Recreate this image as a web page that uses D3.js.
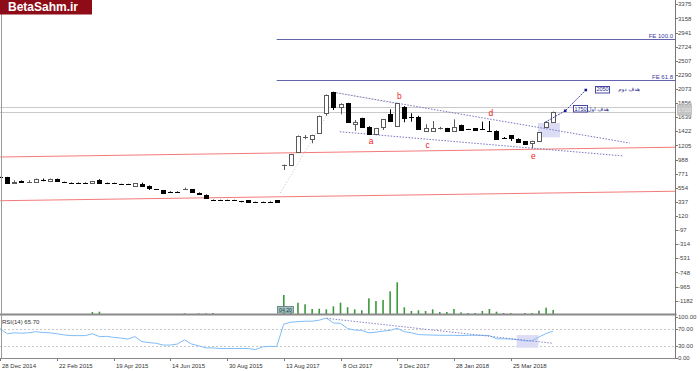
<!DOCTYPE html>
<html><head><meta charset="utf-8">
<script src="https://cdn.jsdelivr.net/npm/d3@7"></script>
<style>
html,body{margin:0;padding:0;background:#fff;overflow:hidden}
svg{display:block;font-family:"Liberation Sans",Arial,sans-serif}
</style></head><body>
<svg id="c" width="700" height="371"></svg>
<script>
// ---------------- DATA ----------------
const tickLabels = ["28 Dec 2014","22 Feb 2015","19 Apr 2015","14 Jun 2015","30 Aug 2015","13 Aug 2017","8 Oct 2017","3 Dec 2017","28 Jan 2018","25 Mar 2018"];
const priceTicks = [3375,3158,2941,2724,2507,2290,2073,1856,1639,1422,1205,988,771,554,337,120,-97,-314,-531,-748,-965,-1182];
const rsiTicks = [100,70,30,0];
const rsiTickText = ["100.00","70.00","30.00","0.00"];

const open  = [715,715,627,663,642,642,685,662,690,645,635,635,634,625,680,624,623,609,608,582,607,586,532,515,496,496,532,530,478,448,368,363,363,363,352,362,337,337,342,362,
               900,904,1109,1325,1304,1401,1699,2022,1796,1853,1530,1622,1493,1376,1484,1684,1504,1801,1650,1647,1427,1430,1465,1468,1427,1519,1455,1468,1455,1433,1432,1326,1361,1309,1269,1247,1273,1488,1561];
const high  = [722,722,668,668,670,696,696,696,696,648,638,638,637,660,686,634,632,616,615,628,632,590,536,520,500,500,556,535,482,452,372,370,370,370,353,366,340,340,345,365,
               910,1075,1358,1365,1370,1665,1990,2030,1853,1860,1596,1630,1500,1475,1612,1760,1860,1810,1699,1660,1530,1581,1490,1475,1607,1525,1460,1470,1570,1581,1437,1335,1365,1315,1273,1278,1412,1570,1725];
const low   = [708,615,622,636,630,636,655,650,655,637,630,630,629,620,628,610,612,598,598,578,572,520,524,474,490,490,525,485,450,392,358,355,355,355,330,336,332,332,337,332,
               827,898,1100,1300,1238,1395,1662,1750,1684,1555,1432,1475,1376,1370,1442,1575,1495,1561,1570,1445,1415,1425,1450,1425,1420,1437,1445,1432,1445,1428,1299,1315,1273,1258,1222,1161,1268,1480,1555];
const close = [712,623,650,640,652,690,667,684,660,641,632,632,631,655,632,621,620,606,605,623,576,551,529,478,493,493,540,489,454,397,364,360,360,360,350,340,335,335,340,336,
               905,1069,1350,1335,1365,1658,1980,1801,1837,1561,1561,1484,1381,1468,1607,1581,1853,1632,1647,1453,1478,1470,1470,1432,1484,1442,1451,1438,1451,1430,1304,1322,1315,1262,1227,1273,1407,1561,1720];
const volume = [0,0,0,0,0,0,0,0,0,0,0,0,0,20,23,0,0,0,0,0,0,0,0,0,0,0,7,0,7,7,10,0,0,0,0,0,0,0,0,0,
               190,30,113,97,50,53,47,77,113,68,47,37,157,130,140,227,317,67,30,37,30,47,20,20,50,17,10,10,30,50,23,10,10,0,10,10,33,63,40];
const rsi = [71.8,59.0,61.5,60.5,61.5,64.1,62.3,61.5,59.0,56.4,54.6,54.6,54.6,59.0,52.1,52.8,50.3,48.7,46.2,52.1,40.0,37.4,35.9,31.5,31.5,34.1,44.4,34.1,29.7,24.6,24.6,23.1,23.1,23.1,23.1,23.1,20.5,27.2,28.2,28.2,
             82.8,87.2,88.7,89.7,89.7,92.3,97.4,85.4,84.6,71.8,68.2,67.4,61.5,63.1,65.6,67.4,72.6,64.1,61.5,57.2,56.4,55.9,55.4,55.4,55.4,54.6,55.4,55.4,55.4,54.6,46.9,46.9,46.2,44.4,41.8,41.8,51.3,59.7,65.7];
const rsiLabel = "RSI(14) 65.70";
const fibLevels = [{label:"FE 100.0", value:2837, from:39}, {label:"FE 61.8", value:2207, from:39}];
const priceLines = [1791, 1714];
const redLines = [{k0:0,p0:1027,k1:95.3,p1:1178},{k0:0,p0:355,k1:95.3,p1:501}];
const channelLines = [{k0:47,p0:2022,k1:88.8,p1:1242},{k0:47.9,p0:1416,k1:87.9,p1:1043}];
const faintLines = [[[39.5,474],[46.1,1673]],[[46.9,2027],[56.0,1842]]];
const waveLabels = [{t:"a",k:52.3,p:1272},{t:"b",k:56.3,p:1970},{t:"c",k:60.3,p:1207},{t:"d",k:69.2,p:1699},{t:"e",k:75.2,p:1047}];
const targetPath = [[76.85,1560],[79.7,1738],[82.6,2057]];
const targets = [{value:1750, text:"هدف اول", k:80.8, textEnd:609},{value:2050, text:"هدف دوم", k:83.9, textEnd:640}];
const zoneMain = {k0:75.85,k1:78.95,p0:1550,p1:1330};
const zoneRsi = {k0:72.85,k1:75.9,v0:56,v1:25};
const rsiTrend = {k0:46.05,v0:96.8,k1:78,v1:35.8};
const lastPrice = 1720;
const gapLabel = "04.20";

// ---------------- SCALES ----------------
const svg = d3.select("#c");
const x  = d3.scaleLinear().domain([0,78]).range([0.2,553.2]);
const yP = d3.scaleLinear().domain([-1182,3375]).range([300.7,4.3]);
const yV = d3.scaleLinear().domain([0,320]).range([314,282]);
const yR = d3.scaleLinear().domain([0,100]).range([358,317]);
const AX = 675.5, MAIN_B = 314, RSI_B = 358.5;
const px = i => Math.round(x(i)) + 0.5;

const defs = svg.append("defs");
defs.append("clipPath").attr("id","cm").append("rect").attr("x",0).attr("y",0).attr("width",AX).attr("height",MAIN_B);
defs.append("clipPath").attr("id","cr").append("rect").attr("x",0).attr("y",315.5).attr("width",AX).attr("height",RSI_B-315.5);

const main = svg.append("g").attr("clip-path","url(#cm)");

main.selectAll("line.pl").data(priceLines).join("line")
  .attr("x1",0).attr("x2",AX).attr("y1",d=>Math.round(yP(d))+0.5).attr("y2",d=>Math.round(yP(d))+0.5)
  .attr("stroke","#cacaca").attr("stroke-width",1);

main.selectAll("line.red").data(redLines).join("line")
  .attr("x1",d=>x(d.k0)).attr("y1",d=>yP(d.p0)).attr("x2",d=>x(d.k1)).attr("y2",d=>yP(d.p1))
  .attr("stroke","#f47a7a").attr("stroke-width",1);

fibLevels.forEach(f=>{
  const yy = Math.round(yP(f.value))+0.5;
  main.append("line").attr("x1",x(f.from)).attr("x2",AX).attr("y1",yy).attr("y2",yy).attr("stroke","#6464ac").attr("stroke-width",1);
  main.append("text").attr("x",673).attr("y",yy-1.5).attr("text-anchor","end").attr("font-size",6).attr("fill","#3c3ca0").text(f.label);
});

main.selectAll("rect.v").data(volume.map((v,i)=>({v,i})).filter(d=>d.v>0)).join("rect")
  .attr("x",d=>x(d.i)-0.8).attr("width",1.6).attr("y",d=>yV(d.v)).attr("height",d=>yV(0)-yV(d.v))
  .attr("fill","#3a9a3a");

main.append("rect").attr("x",x(zoneMain.k0)).attr("width",x(zoneMain.k1)-x(zoneMain.k0))
  .attr("y",yP(zoneMain.p0)).attr("height",yP(zoneMain.p1)-yP(zoneMain.p0)).attr("fill","#dcdcf4");

const line = d3.line().x(d=>x(d[0])).y(d=>yP(d[1]));
main.selectAll("path.f").data(faintLines).join("path").attr("d",line).attr("fill","none")
  .attr("stroke","#c4c4c4").attr("stroke-dasharray","1,2").attr("stroke-width",1);

main.selectAll("line.ch").data(channelLines).join("line")
  .attr("x1",d=>x(d.k0)).attr("y1",d=>yP(d.p0)).attr("x2",d=>x(d.k1)).attr("y2",d=>yP(d.p1))
  .attr("stroke","#7676c0").attr("stroke-dasharray","1.5,1.5").attr("stroke-width",1);

const candles = open.map((o,i)=>({i,o,h:high[i],l:low[i],c:close[i]}));
const cg = main.append("g");
candles.forEach(d=>{
  const cx = px(d.i), up = d.c >= d.o;
  const col = up ? "#5a5a5a" : "#000";
  cg.append("line").attr("x1",cx).attr("x2",cx).attr("y1",yP(d.h)).attr("y2",yP(d.l)).attr("stroke",col).attr("stroke-width",1);
  const t = yP(Math.max(d.o,d.c)), b = yP(Math.min(d.o,d.c));
  if (b - t < 1.3) {
    const yy = Math.round((t+b)/2)+0.5;
    cg.append("line").attr("x1",cx-2.5).attr("x2",cx+2.5).attr("y1",yy).attr("y2",yy).attr("stroke",col);
  } else {
    const tt = Math.round(t)+0.5, bb = Math.round(b)+0.5;
    cg.append("rect").attr("x",cx-2).attr("width",4).attr("y",tt).attr("height",Math.max(1,bb-tt))
      .attr("fill",up?"#fff":"#000").attr("stroke",col).attr("stroke-width",1);
  }
});

main.selectAll("text.w").data(waveLabels).join("text")
  .attr("x",d=>x(d.k)).attr("y",d=>yP(d.p)).attr("dy","0.35em").attr("text-anchor","middle")
  .attr("font-size",8.5).attr("fill","#ee2222").text(d=>d.t);

main.append("path").attr("d",line(targetPath)).attr("fill","none").attr("stroke","#4040b0")
  .attr("stroke-dasharray","2,1").attr("stroke-width",1);
main.selectAll("rect.mk").data(targetPath.slice(1)).join("rect")
  .attr("x",d=>x(d[0])-1.3).attr("y",d=>yP(d[1])-1.3).attr("width",2.6).attr("height",2.6).attr("fill","#1c1c90");
targets.forEach(t=>{
  const cy = yP(t.value)-1;
  const bx = x(t.k);
  main.append("rect").attr("x",Math.round(bx)+0.5).attr("y",Math.round(cy-3.5)+0.5).attr("width",14).attr("height",6.5)
    .attr("fill","#fff").attr("stroke","#4646a6").attr("stroke-width",1);
  main.append("text").attr("x",Math.round(bx)+7.5).attr("y",cy).attr("dy","0.35em").attr("text-anchor","middle")
    .attr("font-size",5.5).attr("fill","#2a2a8a").text(t.value);
  main.append("text").attr("x",t.textEnd).attr("y",cy).attr("dy","0.35em").attr("text-anchor","end")
    .attr("font-family","DejaVu Sans").attr("font-size",5.5).attr("fill","#2a2a8a").text(t.text);
});

main.append("rect").attr("x",Math.round(x(40))-6.5).attr("y",306.5).attr("width",16).attr("height",6.5)
  .attr("fill","#a2c2c2").attr("stroke","#5a7a7a").attr("stroke-width",0.8);
main.append("text").attr("x",Math.round(x(40))+1.5).attr("y",310).attr("dy","0.35em").attr("text-anchor","middle")
  .attr("font-size",5.2).attr("fill","#1a3a3a").text(gapLabel);

// ---------------- RSI ----------------
const rg = svg.append("g").attr("clip-path","url(#cr)");
[70,30].forEach(v=>{
  rg.append("line").attr("x1",0).attr("x2",AX).attr("y1",Math.round(yR(v))+0.5).attr("y2",Math.round(yR(v))+0.5)
    .attr("stroke","#c8c8c8").attr("stroke-dasharray","2,2");
});
rg.append("rect").attr("x",x(zoneRsi.k0)).attr("width",x(zoneRsi.k1)-x(zoneRsi.k0))
  .attr("y",yR(zoneRsi.v0)).attr("height",yR(zoneRsi.v1)-yR(zoneRsi.v0)).attr("fill","#dcdcf4");
rg.append("path").attr("d",d3.line().x((d,i)=>x(i)).y(d=>yR(d))(rsi)).attr("fill","none")
  .attr("stroke","#7fbcf6").attr("stroke-width",1);
rg.append("line").attr("x1",x(rsiTrend.k0)).attr("y1",yR(rsiTrend.v0)).attr("x2",x(rsiTrend.k1)).attr("y2",yR(rsiTrend.v1))
  .attr("stroke","#8484c8").attr("stroke-dasharray","1.5,1.5");
svg.append("text").attr("x",2).attr("y",321.5).attr("dy","0.35em").attr("font-size",6).attr("fill","#333").text(rsiLabel);

// ---------------- FRAME / AXES ----------------
svg.append("line").attr("x1",0).attr("x2",AX+1).attr("y1",314.5).attr("y2",314.5).attr("stroke","#8a8a8a").attr("stroke-width",2);
svg.append("line").attr("x1",0).attr("x2",AX).attr("y1",RSI_B).attr("y2",RSI_B).attr("stroke","#8a8a8a").attr("stroke-width",1);
svg.append("line").attr("x1",1.5).attr("x2",1.5).attr("y1",14).attr("y2",RSI_B).attr("stroke","#9a9a9a");
svg.append("line").attr("x1",AX).attr("x2",AX).attr("y1",0).attr("y2",RSI_B).attr("stroke","#777");

const pa = svg.append("g");
priceTicks.forEach(v=>{
  const yy = Math.round(yP(v))+0.5;
  pa.append("line").attr("x1",AX).attr("x2",AX+2.5).attr("y1",yy).attr("y2",yy).attr("stroke","#777");
  pa.append("text").attr("x",678).attr("y",yP(v)).attr("dy","0.35em").attr("font-size",6).attr("fill","#444").text(v);
});
rsiTicks.forEach((v,i)=>{
  const yy = Math.round(yR(v))+0.5;
  pa.append("line").attr("x1",AX).attr("x2",AX+2.5).attr("y1",yy).attr("y2",yy).attr("stroke","#777");
  pa.append("text").attr("x",678).attr("y",yR(v)).attr("dy","0.35em").attr("font-size",6).attr("fill","#444").text(rsiTickText[i]);
});
pa.append("rect").attr("x",677).attr("y",yP(lastPrice)-7.5).attr("width",15).attr("height",11).attr("fill","#c4c4c4");
pa.append("text").attr("x",684.5).attr("y",yP(lastPrice)-2).attr("dy","0.35em").attr("text-anchor","middle")
  .attr("font-size",6).attr("fill","#e6e6e6").text(lastPrice);

const ta = svg.append("g");
tickLabels.forEach((t,i)=>{
  const k = i*8, xx = px(k);
  ta.append("line").attr("x1",xx).attr("x2",xx).attr("y1",RSI_B).attr("y2",RSI_B+2.5).attr("stroke","#777");
  ta.append("text").attr("x",xx+1.5).attr("y",365.5).attr("dy","0.35em").attr("font-size",6).attr("fill","#333").text(t);
});

// logo
svg.append("rect").attr("x",0).attr("y",0).attr("width",92).attr("height",14.5).attr("fill","#8d0c18");
svg.append("text").attr("x",8).attr("y",11.3).attr("font-size",12).attr("font-weight","bold").attr("fill","#fff").text("BetaSahm.ir");
</script>
</body></html>
